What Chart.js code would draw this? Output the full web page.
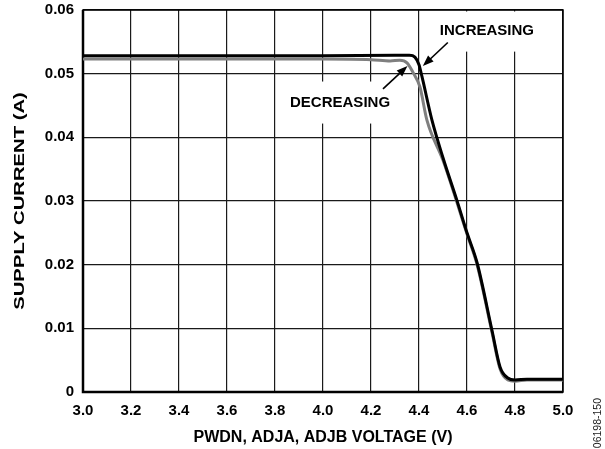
<!DOCTYPE html>
<html lang="en">
<head>
    <meta charset="UTF-8">
    <title>Supply Current vs PWDN Voltage</title>
    <script src="https://cdn.jsdelivr.net/npm/chart.js"></script>
    <style>
        body {
            margin: 0;
            padding: 0;
            background-color: #fff;
        }
        .chart-box {
            width: 605px;
            height: 449px;
        }
    </style>
</head>
<body>
    <div class="chart-box">
        <canvas id="currentChart" width="605" height="449"></canvas>
    </div>

    <script>
        // Increasing sweep (black curve)
        const incVolts = [3.0, 3.5, 4.0, 4.3, 4.36, 4.383, 4.40, 4.412, 4.454, 4.5, 4.558, 4.6, 4.642, 4.704, 4.738, 4.77, 4.8, 4.85, 5.0];
        const incAmps = [0.0528, 0.0528, 0.0528, 0.0529, 0.0529, 0.0526, 0.0514, 0.0496, 0.0427, 0.0368, 0.0301, 0.0250, 0.0203, 0.0097, 0.0039, 0.0022, 0.0019, 0.0020, 0.0020];

        // Decreasing sweep (gray curve)
        const decVolts = [3.0, 3.5, 4.0, 4.2, 4.28, 4.32, 4.35, 4.375, 4.404, 4.433, 4.5, 4.558, 4.6, 4.642, 4.704, 4.738, 4.77, 4.8, 4.85, 5.0];
        const decAmps = [0.0523, 0.0523, 0.0523, 0.0522, 0.0520, 0.0521, 0.0517, 0.0502, 0.0479, 0.0427, 0.0364, 0.0298, 0.0248, 0.0200, 0.0094, 0.0036, 0.0019, 0.0017, 0.0019, 0.0019];

        const xTicks = [3.0, 3.2, 3.4, 3.6, 3.8, 4.0, 4.2, 4.4, 4.6, 4.8, 5.0];
        const yTicks = [0, 0.01, 0.02, 0.03, 0.04, 0.05, 0.06];

        const toPoints = (xs, ys) => xs.map((x, i) => ({ x: x, y: ys[i] }));

        // Callout labels, placed in data units
        const callouts = [
            { text: 'INCREASING', x: 4.683, y: 0.0567, box: [4.48, 0.0600, 4.87, 0.0537],
              arrowFrom: [4.52, 0.0549], arrowTo: [4.416, 0.0512] },
            { text: 'DECREASING', x: 4.071, y: 0.0454, box: [3.84, 0.0490, 4.30, 0.0424],
              arrowFrom: [4.25, 0.0476], arrowTo: [4.352, 0.0512] }
        ];

        const FONT = '"Liberation Sans", Arial, sans-serif';
        const Y_TITLE = 'SUPPLY CURRENT (A)';

        function drawArrow(ctx, x1, y1, x2, y2) {
            const ang = Math.atan2(y2 - y1, x2 - x1);
            const len = 11, half = 4;
            ctx.beginPath();
            ctx.moveTo(x1, y1);
            ctx.lineTo(x2 - Math.cos(ang) * len * 0.8, y2 - Math.sin(ang) * len * 0.8);
            ctx.lineWidth = 1.6;
            ctx.strokeStyle = '#000';
            ctx.stroke();
            ctx.beginPath();
            ctx.moveTo(x2, y2);
            ctx.lineTo(x2 - Math.cos(ang) * len - Math.sin(ang) * half, y2 - Math.sin(ang) * len + Math.cos(ang) * half);
            ctx.lineTo(x2 - Math.cos(ang) * len + Math.sin(ang) * half, y2 - Math.sin(ang) * len - Math.cos(ang) * half);
            ctx.closePath();
            ctx.fillStyle = '#000';
            ctx.fill();
        }

        const decorPlugin = {
            id: 'decor',
            beforeDatasetsDraw(chart) {
                const { ctx, chartArea: a, scales: { x, y } } = chart;
                ctx.save();
                // white boxes behind the callout text
                callouts.forEach(c => {
                    const x1 = x.getPixelForValue(c.box[0]), y1 = y.getPixelForValue(c.box[1]);
                    const x2 = x.getPixelForValue(c.box[2]), y2 = y.getPixelForValue(c.box[3]);
                    ctx.fillStyle = '#fff';
                    ctx.fillRect(x1, y1 + 1.5, x2 - x1, y2 - y1);
                });
                // plot frame
                ctx.strokeStyle = '#000';
                ctx.lineWidth = 1.5;
                ctx.strokeRect(a.left, a.top, a.right - a.left, a.bottom - a.top);
                ctx.lineWidth = 2.5;
                ctx.beginPath();
                ctx.moveTo(a.left, a.top);
                ctx.lineTo(a.left, a.bottom);
                ctx.lineTo(a.right, a.bottom);
                ctx.stroke();
                ctx.restore();
            },
            afterDatasetsDraw(chart) {
                const { ctx, chartArea: a, scales: { x, y } } = chart;
                ctx.save();
                ctx.font = 'bold 15px ' + FONT;
                ctx.textAlign = 'center';
                ctx.textBaseline = 'middle';
                ctx.fillStyle = '#000';
                callouts.forEach(c => {
                    ctx.fillText(c.text, x.getPixelForValue(c.x), y.getPixelForValue(c.y));
                    drawArrow(ctx,
                        x.getPixelForValue(c.arrowFrom[0]), y.getPixelForValue(c.arrowFrom[1]),
                        x.getPixelForValue(c.arrowTo[0]), y.getPixelForValue(c.arrowTo[1]));
                });
                ctx.restore();

                // y axis title, stretched along its length like the original
                ctx.save();
                ctx.translate(20, 201);
                ctx.rotate(-Math.PI / 2);
                ctx.scale(1.35, 1);
                ctx.font = 'bold 15px ' + FONT;
                ctx.textAlign = 'center';
                ctx.textBaseline = 'middle';
                ctx.fillStyle = '#000';
                ctx.fillText(Y_TITLE, 0, 0);
                ctx.restore();

                // figure number, rotated on the right edge
                ctx.save();
                ctx.translate(598, 398);
                ctx.rotate(-Math.PI / 2);
                ctx.font = '10.5px ' + FONT;
                ctx.textAlign = 'right';
                ctx.textBaseline = 'middle';
                ctx.fillStyle = '#222';
                ctx.fillText('06198-150', 0, 0);
                ctx.restore();
            }
        };

        const ctxCurrent = document.getElementById('currentChart').getContext('2d');
        const currentChart = new Chart(ctxCurrent, {
            type: 'line',
            data: {
                datasets: [
                    {
                        label: 'INCREASING',
                        data: toPoints(incVolts, incAmps),
                        borderColor: '#000',
                        borderWidth: 3,
                        pointRadius: 0,
                        cubicInterpolationMode: 'monotone',
                        fill: false
                    },
                    {
                        label: 'DECREASING',
                        data: toPoints(decVolts, decAmps),
                        borderColor: '#7f7f7f',
                        borderWidth: 3,
                        pointRadius: 0,
                        cubicInterpolationMode: 'monotone',
                        fill: false
                    }
                ]
            },
            options: {
                responsive: false,
                animation: false,
                layout: { padding: { top: 10, right: 42, left: 0, bottom: 0 } },
                plugins: {
                    legend: { display: false },
                    tooltip: { enabled: false }
                },
                scales: {
                    x: {
                        type: 'linear',
                        min: 3.0,
                        max: 5.0,
                        afterBuildTicks: s => { s.ticks = xTicks.map(v => ({ value: v })); },
                        afterFit: s => { s.height = 57; s.paddingLeft = 0; s.paddingRight = 0; },
                        ticks: {
                            callback: v => v.toFixed(1),
                            font: { family: FONT, size: 15, weight: 'bold' },
                            color: '#000',
                            padding: 10,
                            maxRotation: 0
                        },
                        grid: { color: '#1a1a1a', lineWidth: 1.2, drawTicks: false },
                        border: { display: false },
                        title: {
                            display: true,
                            text: 'PWDN, ADJA, ADJB VOLTAGE (V)',
                            font: { family: FONT, size: 16, weight: 'bold' },
                            color: '#000',
                            padding: { top: 0, bottom: 2 }
                        }
                    },
                    y: {
                        min: 0,
                        max: 0.06,
                        afterBuildTicks: s => { s.ticks = yTicks.map(v => ({ value: v })); },
                        afterFit: s => { s.width = 83; s.paddingTop = 0; s.paddingBottom = 0; },
                        ticks: {
                            callback: v => v === 0 ? '0' : v.toFixed(2),
                            font: { family: FONT, size: 15, weight: 'bold' },
                            color: '#000',
                            padding: 9
                        },
                        grid: { color: '#1a1a1a', lineWidth: 1.2, drawTicks: false },
                        border: { display: false },
                        title: { display: false }
                    }
                }
            },
            plugins: [decorPlugin]
        });
    </script>
</body>
</html>
